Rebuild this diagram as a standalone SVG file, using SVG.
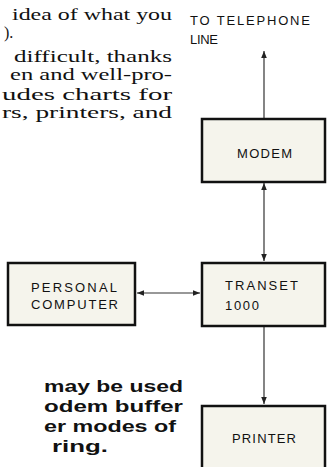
<svg xmlns="http://www.w3.org/2000/svg" width="327" height="467" viewBox="0 0 327 467">
<style>
.box{fill:#f5f4ec;stroke:#111;stroke-width:2.5}
.lbl{font-family:"Liberation Sans",Arial,sans-serif;font-size:13px;fill:#111}
.ser{font-family:"Liberation Serif","Times New Roman",serif;font-size:16px;fill:#111}
.bld{font-family:"Liberation Sans",Arial,sans-serif;font-size:17px;font-weight:bold;fill:#111}
.con{stroke:#333;stroke-width:1.2;fill:none}
</style>
<defs>
<marker id="ah" viewBox="0 0 10 10" refX="10" refY="5" markerWidth="7" markerHeight="7" orient="auto-start-reverse" markerUnits="userSpaceOnUse">
<path d="M0,1 L10,5 L0,9 Z" fill="#222"/>
</marker>
</defs>
<rect width="327" height="467" fill="#fff"/>
<g id="text-left">
<text class="ser" x="12" y="20" textLength="160" lengthAdjust="spacingAndGlyphs">idea of what you</text>
<text class="ser" x="4" y="38">).</text>
<text class="ser" x="14" y="62" textLength="158" lengthAdjust="spacingAndGlyphs">difficult, thanks</text>
<text class="ser" x="10" y="80" textLength="162" lengthAdjust="spacingAndGlyphs">en and well-pro-</text>
<text class="ser" x="2" y="100" textLength="170" lengthAdjust="spacingAndGlyphs">udes charts for</text>
<text class="ser" x="2" y="118" textLength="170" lengthAdjust="spacingAndGlyphs">rs, printers, and</text>
<text class="bld" x="44" y="392" textLength="139" lengthAdjust="spacingAndGlyphs">may be used</text>
<text class="bld" x="44" y="412" textLength="139" lengthAdjust="spacingAndGlyphs">odem buffer</text>
<text class="bld" x="44" y="432" textLength="132" lengthAdjust="spacingAndGlyphs">er modes of</text>
<text class="bld" x="52" y="452" textLength="56" lengthAdjust="spacingAndGlyphs">ring.</text>
</g>
<g id="phone-label">
<text class="lbl" x="190" y="25" textLength="120" lengthAdjust="spacing">TO TELEPHONE</text>
<text class="lbl" x="190" y="44" textLength="28" lengthAdjust="spacing">LINE</text>
</g>
<g id="connectors">
<line class="con" x1="264" y1="118" x2="264" y2="51" marker-end="url(#ah)"/>
<line class="con" x1="264" y1="183" x2="264" y2="261" marker-start="url(#ah)" marker-end="url(#ah)"/>
<line class="con" x1="137" y1="293" x2="200" y2="293" marker-start="url(#ah)" marker-end="url(#ah)"/>
<line class="con" x1="264" y1="327" x2="264" y2="404" marker-end="url(#ah)"/>
</g>
<g id="modem">
<rect class="box" x="202" y="119" width="123" height="63"/>
<text class="lbl" x="237" y="158" textLength="55" lengthAdjust="spacing">MODEM</text>
</g>
<g id="pc">
<rect class="box" x="8" y="263" width="127" height="62"/>
<text class="lbl" x="31" y="292" textLength="86" lengthAdjust="spacing">PERSONAL</text>
<text class="lbl" x="31" y="309" textLength="87" lengthAdjust="spacing">COMPUTER</text>
</g>
<g id="transet">
<rect class="box" x="202" y="263" width="123" height="63"/>
<text class="lbl" x="225" y="290" textLength="73" lengthAdjust="spacing">TRANSET</text>
<text class="lbl" x="225" y="310" textLength="34" lengthAdjust="spacing">1000</text>
</g>
<g id="printer">
<rect class="box" x="202" y="406" width="123" height="66"/>
<text class="lbl" x="232" y="443" textLength="64" lengthAdjust="spacing">PRINTER</text>
</g>
</svg>
